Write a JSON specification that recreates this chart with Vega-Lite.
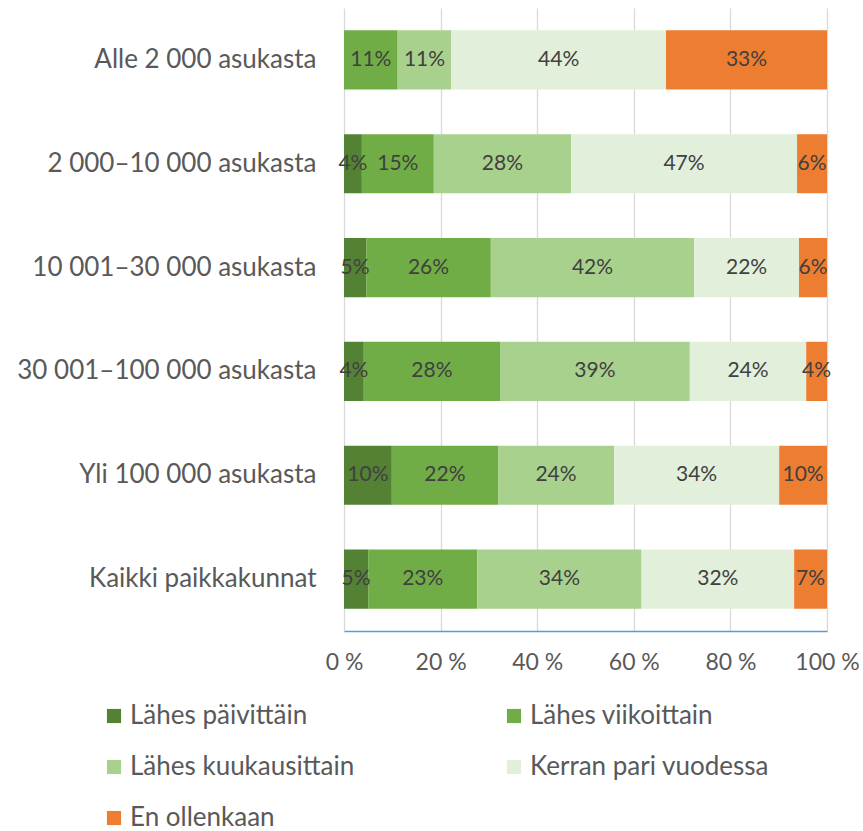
{
  "$schema": "https://vega.github.io/schema/vega-lite/v6.json",
  "width": 483,
  "height": 623,
  "autosize": {"type": "none"},
  "padding": {"left": 344, "top": 8, "right": 36, "bottom": 200},
  "background": "white",
  "config": {
    "view": {"stroke": null},
    "font": "Lato"
  },
  "data": {
    "values": [
      {"cat": "Alle 2 000 asukasta", "k": 1, "s": "Lähes päivittäin", "v": 0},
      {"cat": "Alle 2 000 asukasta", "k": 2, "s": "Lähes viikoittain", "v": 0.111},
      {"cat": "Alle 2 000 asukasta", "k": 3, "s": "Lähes kuukausittain", "v": 0.111},
      {"cat": "Alle 2 000 asukasta", "k": 4, "s": "Kerran pari vuodessa", "v": 0.444},
      {"cat": "Alle 2 000 asukasta", "k": 5, "s": "En ollenkaan", "v": 0.333},
      {"cat": "2 000–10 000 asukasta", "k": 1, "s": "Lähes päivittäin", "v": 0.037},
      {"cat": "2 000–10 000 asukasta", "k": 2, "s": "Lähes viikoittain", "v": 0.149},
      {"cat": "2 000–10 000 asukasta", "k": 3, "s": "Lähes kuukausittain", "v": 0.284},
      {"cat": "2 000–10 000 asukasta", "k": 4, "s": "Kerran pari vuodessa", "v": 0.468},
      {"cat": "2 000–10 000 asukasta", "k": 5, "s": "En ollenkaan", "v": 0.062},
      {"cat": "10 001–30 000 asukasta", "k": 1, "s": "Lähes päivittäin", "v": 0.046},
      {"cat": "10 001–30 000 asukasta", "k": 2, "s": "Lähes viikoittain", "v": 0.258},
      {"cat": "10 001–30 000 asukasta", "k": 3, "s": "Lähes kuukausittain", "v": 0.421},
      {"cat": "10 001–30 000 asukasta", "k": 4, "s": "Kerran pari vuodessa", "v": 0.217},
      {"cat": "10 001–30 000 asukasta", "k": 5, "s": "En ollenkaan", "v": 0.058},
      {"cat": "30 001–100 000 asukasta", "k": 1, "s": "Lähes päivittäin", "v": 0.041},
      {"cat": "30 001–100 000 asukasta", "k": 2, "s": "Lähes viikoittain", "v": 0.282},
      {"cat": "30 001–100 000 asukasta", "k": 3, "s": "Lähes kuukausittain", "v": 0.393},
      {"cat": "30 001–100 000 asukasta", "k": 4, "s": "Kerran pari vuodessa", "v": 0.241},
      {"cat": "30 001–100 000 asukasta", "k": 5, "s": "En ollenkaan", "v": 0.043},
      {"cat": "Yli 100 000 asukasta", "k": 1, "s": "Lähes päivittäin", "v": 0.099},
      {"cat": "Yli 100 000 asukasta", "k": 2, "s": "Lähes viikoittain", "v": 0.22},
      {"cat": "Yli 100 000 asukasta", "k": 3, "s": "Lähes kuukausittain", "v": 0.24},
      {"cat": "Yli 100 000 asukasta", "k": 4, "s": "Kerran pari vuodessa", "v": 0.342},
      {"cat": "Yli 100 000 asukasta", "k": 5, "s": "En ollenkaan", "v": 0.099},
      {"cat": "Kaikki paikkakunnat", "k": 1, "s": "Lähes päivittäin", "v": 0.05},
      {"cat": "Kaikki paikkakunnat", "k": 2, "s": "Lähes viikoittain", "v": 0.226},
      {"cat": "Kaikki paikkakunnat", "k": 3, "s": "Lähes kuukausittain", "v": 0.34},
      {"cat": "Kaikki paikkakunnat", "k": 4, "s": "Kerran pari vuodessa", "v": 0.316},
      {"cat": "Kaikki paikkakunnat", "k": 5, "s": "En ollenkaan", "v": 0.068}
    ]
  },
  "transform": [
    {"stack": "v", "groupby": ["cat"], "sort": [{"field": "k", "order": "ascending"}], "offset": "normalize", "as": ["v0", "v1"]}
  ],
  "encoding": {
    "y": {
      "field": "cat",
      "type": "nominal",
      "sort": ["Alle 2 000 asukasta", "2 000–10 000 asukasta", "10 001–30 000 asukasta", "30 001–100 000 asukasta", "Yli 100 000 asukasta", "Kaikki paikkakunnat"],
      "scale": {"paddingInner": 0.43, "paddingOuter": 0.215},
      "axis": {
        "title": null,
        "domain": false,
        "ticks": false,
        "labelFontSize": 26,
        "labelColor": "#595959",
        "labelPadding": 28,
        "labelLimit": 400
      }
    }
  },
  "layer": [
    {
      "mark": {"type": "bar"},
      "encoding": {
        "x": {
          "field": "v0",
          "type": "quantitative",
          "scale": {"domain": [0, 1], "nice": false},
          "axis": {
            "title": null,
            "values": [0, 0.2, 0.4, 0.6, 0.8, 1],
            "labelExpr": "format(datum.value*100, 'd') + ' %'",
            "labelFlush": false,
            "labelOverlap": false,
            "labelBound": false,
            "grid": true,
            "gridColor": "#d9d9d9",
            "gridWidth": 1.3,
            "domainColor": "#5b9bd5",
            "domainWidth": 1.5,
            "ticks": false,
            "labelFontSize": 23,
            "labelColor": "#595959",
            "labelPadding": 20
          }
        },
        "x2": {"field": "v1"},
        "color": {
          "field": "s",
          "type": "nominal",
          "scale": {
            "domain": ["Lähes päivittäin", "Lähes viikoittain", "Lähes kuukausittain", "Kerran pari vuodessa", "En ollenkaan"],
            "range": ["#548235", "#70ad47", "#a9d18e", "#e2efda", "#ed7d31"]
          },
          "legend": {
            "title": null,
            "orient": "none",
            "direction": "horizontal",
            "legendX": -243,
            "legendY": 695,
            "columns": 2,
            "columnPadding": 146,
            "rowPadding": 25,
            "symbolType": "square",
            "symbolSize": 200,
            "symbolStrokeWidth": 0,
            "labelFontSize": 26,
            "labelColor": "#595959",
            "labelOffset": 3,
            "labelLimit": 400
          }
        }
      }
    },
    {
      "transform": [
        {"filter": "datum.v > 0"},
        {"calculate": "(datum.v0 + datum.v1) / 2", "as": "mid"}
      ],
      "mark": {"type": "text", "fontSize": 21, "color": "#404040"},
      "encoding": {
        "x": {"field": "mid", "type": "quantitative"},
        "text": {"field": "v", "type": "quantitative", "format": ".0%"}
      }
    }
  ]
}
